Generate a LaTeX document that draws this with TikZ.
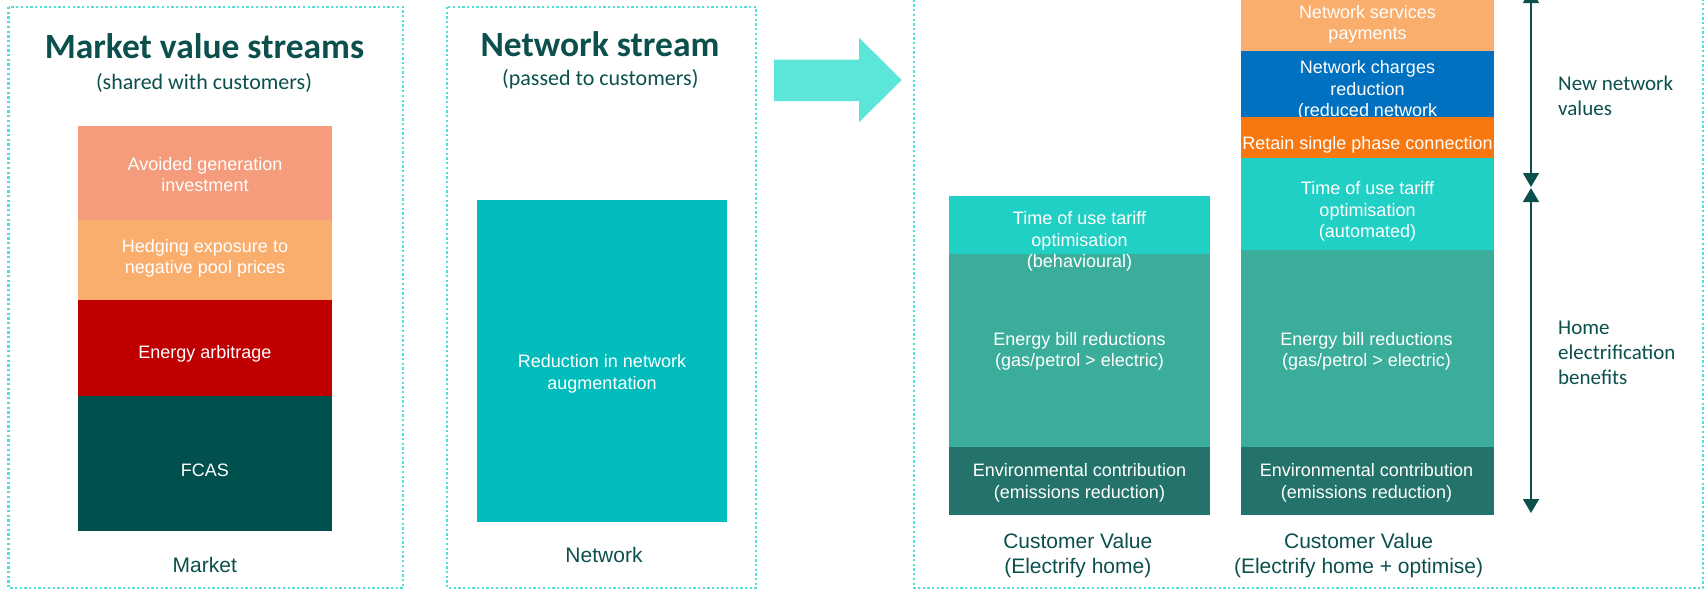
\documentclass[tikz,border=0pt]{standalone}
\usepackage{fontspec}
\setmainfont{Liberation Sans}
\newfontfamily\carlito{Carlito}
\usetikzlibrary{arrows.meta}
\definecolor{dotc}{HTML}{52DDD5}
\definecolor{titc}{HTML}{0B504D}
\definecolor{avoidc}{HTML}{F49C7C}
\definecolor{hedgec}{HTML}{FAAE6E}
\definecolor{arbc}{HTML}{C00000}
\definecolor{fcasc}{HTML}{00504E}
\definecolor{netc}{HTML}{00BCBC}
\definecolor{ncrc}{HTML}{0070C0}
\definecolor{rspc}{HTML}{F8770F}
\definecolor{touc}{HTML}{21D0C5}
\definecolor{ebrc}{HTML}{3AAE9A}
\definecolor{envc}{HTML}{24736A}
\definecolor{arrowc}{HTML}{5CE6DA}
\begin{document}
\begin{tikzpicture}[x=1pt,y=-1pt,
 panel/.style={draw=dotc, line width=2.5pt, dash pattern=on 2.3pt off 2.4pt},
 bar/.style={rectangle, inner sep=0pt, anchor=north west},
 btxt/.style={text=white, font=\fontsize{18}{21.5}\selectfont, align=center, inner sep=0pt},
 ttl/.style={text=titc, font=\carlito\bfseries\fontsize{35.5}{40}\selectfont, anchor=base, inner sep=0pt},
 subt/.style={text=titc, font=\carlito\fontsize{22}{26}\selectfont, anchor=base, inner sep=0pt},
 capt/.style={text=titc, font=\fontsize{21}{25}\selectfont, align=center, inner sep=0pt},
 side/.style={text=titc, font=\carlito\fontsize{21}{25}\selectfont, align=left, anchor=west, inner sep=0pt},
 spanarrow/.style={draw=titc, line width=1.5pt, {Triangle[width=16pt,length=14pt]}-{Triangle[width=16pt,length=14pt]}}
]
\useasboundingbox (0,0) rectangle (1708,590);
\clip (0,0) rectangle (1708,590);
\fill[white] (0,0) rectangle (1708,590);

% panels
\draw[panel] (8.5,7) rectangle (403,588);
\draw[panel] (447,7) rectangle (756,588);
\draw[panel] (914,-5) rectangle (1703,588);

% big arrow
\fill[arrowc] (774,59.5) -- (859,59.5) -- (859,37.6) -- (901.7,80) -- (859,122.3) -- (859,101) -- (774,101) -- cycle;

% panel 1
\node[ttl] (t1) at (204.5,58) {Market value streams};
\node[subt] (s1) at (204,89) {(shared with customers)};
\node[bar, fill=avoidc, minimum width=254pt, minimum height=94pt] (avoid) at (78,126) {};
\node[bar, fill=hedgec, minimum width=254pt, minimum height=79.6pt] (hedge) at (78,220) {};
\node[bar, fill=arbc, minimum width=254pt, minimum height=95.8pt] (arb) at (78,299.6) {};
\node[bar, fill=fcasc, minimum width=254pt, minimum height=135.1pt] (fcas) at (78,395.4) {};
\node[btxt] (avoidtxt) at (205,174.5) {Avoided generation\\investment};
\node[btxt] (hedgetxt) at (205,258.3) {Hedging exposure to\\negative pool prices};
\node[btxt] (arbtxt) at (205,353.5) {Energy arbitrage};
\node[btxt] (fcastxt) at (205,470.5) {FCAS};
\node[capt] (market) at (204.8,565.4) {Market};

% panel 2
\node[ttl] (t2) at (600,56.5) {Network stream};
\node[subt] (s2) at (600.3,85.8) {(passed to customers)};
\node[bar, fill=netc, minimum width=250pt, minimum height=322pt] (netbox) at (477,200) {};
\node[btxt] (nettxt) at (602,374) {Reduction in network\\augmentation};
\node[capt] (network) at (604,555) {Network};

% panel 3, column 1
\node[bar, fill=touc, minimum width=261pt, minimum height=58pt] (tou1) at (949,196) {};
\node[bar, fill=ebrc, minimum width=261pt, minimum height=192.7pt] (ebr1) at (949,254) {};
\node[bar, fill=envc, minimum width=261pt, minimum height=68pt] (env1) at (949,446.7) {};
\node[btxt] (tou1txt) at (1079.5,241.5) {Time of use tariff\\optimisation\\(behavioural)};
\node[btxt] (ebr1txt) at (1079.5,351.5) {Energy bill reductions\\(gas/petrol > electric)};
\node[btxt] (env1txt) at (1079.5,482.7) {Environmental contribution\\(emissions reduction)};
\node[capt] (cv1) at (1077.8,555.8) {Customer Value\\(Electrify home)};

% panel 3, column 2
\node[bar, fill=hedgec, minimum width=253pt, minimum height=60.7pt] (nsp) at (1241,-10) {};
\node[btxt] (nsptxt) at (1367.5,24.2) {Network services\\payments};
\node[bar, fill=ncrc, minimum width=253pt, minimum height=66pt] (ncr) at (1241,50.7) {};
\node[btxt] (ncrtxt) at (1367.5,90.5) {Network charges\\reduction\\(reduced network};
\node[bar, fill=rspc, minimum width=253pt, minimum height=41pt] (rsp) at (1241,116.7) {};
\node[btxt] (rsptxt) at (1367.5,144.5) {Retain single phase connection};
\node[bar, fill=touc, minimum width=253pt, minimum height=92.3pt] (tou2) at (1241,157.7) {};
\node[bar, fill=ebrc, minimum width=253pt, minimum height=196.7pt] (ebr2) at (1241,250) {};
\node[bar, fill=envc, minimum width=253pt, minimum height=68pt] (env2) at (1241,446.7) {};
\node[btxt] (tou2txt) at (1367.5,211.5) {Time of use tariff\\optimisation\\(automated)};
\node[btxt] (ebr2txt) at (1366.5,351.5) {Energy bill reductions\\(gas/petrol > electric)};
\node[btxt] (env2txt) at (1366.5,482.7) {Environmental contribution\\(emissions reduction)};
\node[capt] (cv2) at (1358.6,555.8) {Customer Value\\(Electrify home + optimise)};

% span arrows
\coordinate (ntop) at (1531,-11);
\coordinate (nbot) at (1531,187);
\coordinate (htop) at (1531,188);
\coordinate (hbot) at (1531,513);
\draw[spanarrow] (ntop) -- (nbot);
\draw[spanarrow] (htop) -- (hbot);
\node[side] (newnet) at (1558,95.8) {New network\\values};
\node[side] (homeel) at (1558,352.5) {Home\\electrification\\benefits};
\end{tikzpicture}
\end{document}
